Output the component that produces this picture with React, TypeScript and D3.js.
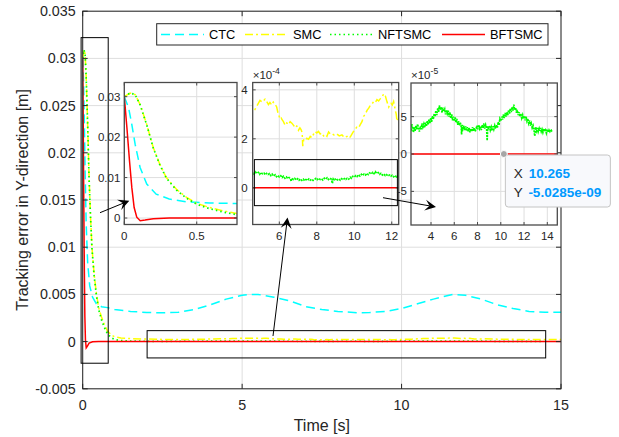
import React from 'react';
import * as d3 from 'd3';

const W = 619;
const H = 437;
const FONT = '"Liberation Sans", Arial, Helvetica, sans-serif';

// ---------------- data ----------------
const seriesNames = ['CTC', 'SMC', 'NFTSMC', 'BFTSMC'];

const ctcTime = [0, 0.03, 0.052, 0.075, 0.109, 0.155, 0.22, 0.31, 0.43, 0.59, 0.78, 1.0, 1.5, 2, 2.5, 3, 3.5, 4, 4.5, 5, 5.2, 5.5, 6, 6.5, 7, 7.5, 8, 8.6, 9, 9.5, 10, 10.5, 11, 11.6, 12, 12.5, 13, 13.5, 14, 14.5, 15];
const ctcErr = [0.030, 0.0272, 0.0231, 0.0182, 0.0125, 0.0084, 0.0059, 0.0047, 0.0040, 0.0037, 0.0036, 0.0034, 0.0032, 0.00308, 0.00306, 0.0031, 0.0034, 0.0039, 0.0045, 0.0049, 0.0050, 0.0050, 0.0047, 0.0043, 0.0037, 0.0034, 0.0032, 0.00306, 0.00308, 0.0032, 0.0035, 0.0040, 0.0045, 0.0050, 0.0049, 0.0045, 0.0039, 0.0035, 0.0032, 0.0031, 0.0031];

const smcTime = [0, 0.04, 0.075, 0.11, 0.155, 0.2, 0.245, 0.29, 0.36, 0.43, 0.5, 0.59, 0.68, 0.78, 0.9, 1.0, 1.2, 1.5, 2, 2.5, 3, 3.5, 4, 4.3,
  4.58, 4.7, 4.79, 4.88, 4.97, 5.1, 5.24, 5.33, 5.42, 5.5, 5.6, 5.68, 5.77, 5.86, 5.93, 6.0, 6.07, 6.13, 6.22, 6.31, 6.4, 6.49, 6.58, 6.67, 6.76, 6.84, 6.93, 7.02, 7.1, 7.16, 7.22, 7.25, 7.3, 7.38, 7.47, 7.56, 7.65, 7.74, 7.82, 7.91, 8.0, 8.09, 8.18, 8.27, 8.36, 8.45, 8.54, 8.63, 8.72, 8.8, 8.93, 9.07, 9.2, 9.34, 9.47, 9.61, 9.7, 9.79, 9.88, 9.96, 10.05, 10.14, 10.23, 10.32, 10.41, 10.5, 10.59, 10.68, 10.77, 10.85, 10.94, 11.03, 11.12, 11.21, 11.3, 11.39, 11.48, 11.57, 11.66, 11.75, 11.84, 11.9, 11.96, 12.03, 12.1, 12.19, 12.24, 12.28, 12.37,
  12.6, 13, 13.5, 14, 14.5, 15];
const smcErr = [0.030, 0.0309, 0.0305, 0.028, 0.0231, 0.0174, 0.0133, 0.0100, 0.0071, 0.0051, 0.0036, 0.0026, 0.0018, 0.0011, 0.0007, 0.0005, 0.00038, 0.00032, 0.00027, 0.00023, 0.00022, 0.00024, 0.00027, 0.00029,
  3.10e-4, 3.20e-4, 3.32e-4, 3.45e-4, 3.57e-4, 3.50e-4, 3.62e-4, 3.52e-4, 3.40e-4, 3.48e-4, 3.38e-4, 3.50e-4, 3.42e-4, 3.30e-4, 3.05e-4, 2.90e-4, 2.95e-4, 2.80e-4, 2.70e-4, 2.55e-4, 2.65e-4, 2.58e-4, 2.70e-4, 2.64e-4, 2.55e-4, 2.45e-4, 2.52e-4, 2.35e-4, 2.45e-4, 2.38e-4, 2.25e-4, 1.70e-4, 1.95e-4, 1.92e-4, 2.02e-4, 1.98e-4, 2.10e-4, 2.05e-4, 2.18e-4, 2.30e-4, 2.24e-4, 2.30e-4, 2.20e-4, 2.24e-4, 2.12e-4, 2.18e-4, 2.10e-4, 2.28e-4, 2.20e-4, 2.22e-4, 2.15e-4, 2.20e-4, 2.12e-4, 2.16e-4, 2.05e-4, 2.10e-4, 2.02e-4, 2.08e-4, 2.20e-4, 2.30e-4, 2.40e-4, 2.48e-4, 2.45e-4, 2.58e-4, 2.70e-4, 2.92e-4, 3.00e-4, 3.16e-4, 3.25e-4, 3.36e-4, 3.42e-4, 3.52e-4, 3.48e-4, 3.60e-4, 3.55e-4, 3.64e-4, 3.70e-4, 3.84e-4, 3.75e-4, 3.50e-4, 3.30e-4, 3.40e-4, 3.45e-4, 3.38e-4, 3.52e-4, 3.16e-4, 3.00e-4, 2.72e-4, 2.82e-4,
  2.9e-4, 2.6e-4, 2.4e-4, 2.2e-4, 2.1e-4, 2.2e-4];

const nftsmcTime = [0, 0.04, 0.075, 0.11, 0.155, 0.2, 0.245, 0.29, 0.36, 0.43, 0.5, 0.59, 0.68, 0.78, 0.9, 1.0, 1.2, 1.5, 1.8, 2.0,
  2.28, 2.35, 2.42, 2.49, 2.56, 2.63, 2.7, 2.78, 2.85, 2.92, 3.0, 3.08, 3.15, 3.22, 3.3, 3.38, 3.45, 3.52, 3.6, 3.68, 3.75, 3.82, 3.9, 3.98, 4.05, 4.12, 4.2, 4.28, 4.35, 4.42, 4.5, 4.58, 4.65, 4.72, 4.8, 4.88, 4.95, 5.02, 5.1, 5.18, 5.25, 5.32, 5.4, 5.48, 5.55, 5.62, 5.7, 5.78, 5.85, 5.92, 6.0, 6.08, 6.15, 6.22, 6.3, 6.38, 6.45, 6.52, 6.6, 6.63, 6.67, 6.75, 6.82, 6.9, 6.98, 7.05, 7.12, 7.2, 7.28, 7.35, 7.42, 7.5, 7.58, 7.65, 7.72, 7.8, 7.88, 7.95, 8.02, 8.1, 8.18, 8.25, 8.32, 8.4, 8.48, 8.55, 8.62, 8.7, 8.78, 8.83, 8.88, 8.95, 9.02, 9.1, 9.18, 9.25, 9.32, 9.4, 9.48, 9.55, 9.62, 9.7, 9.78, 9.85, 9.92, 10.0, 10.08, 10.15, 10.22, 10.3, 10.38, 10.45, 10.52, 10.6, 10.68, 10.75, 10.82, 10.9, 10.98, 11.05, 11.12, 11.2, 11.28, 11.35, 11.42, 11.5, 11.58, 11.65, 11.72, 11.8, 11.88, 11.95, 12.02, 12.1, 12.18, 12.25, 12.32, 12.4, 12.48, 12.55, 12.62, 12.7, 12.78, 12.85, 12.92, 13.0, 13.08, 13.15, 13.22, 13.3, 13.35, 13.4, 13.48, 13.55, 13.62, 13.7, 13.78, 13.85, 13.92, 14.0, 14.08, 14.15, 14.22, 14.3, 14.38, 14.45, 14.52, 14.6, 14.68, 14.75, 14.82, 14.9, 15.0];
const nftsmcErr = [0.030, 0.0309, 0.0305, 0.0279, 0.0230, 0.0173, 0.0132, 0.0099, 0.0069, 0.0049, 0.0034, 0.0023, 0.0015, 0.0008, 0.0004, 0.00022, 0.0001, 0.00006, 0.00004, 0.000035,
  3.2e-5, 4.0e-5, 3.4e-5, 2.9e-5, 3.6e-5, 3.1e-5, 3.8e-5, 3.3e-5, 4.0e-5, 3.5e-5, 3.0e-5, 3.7e-5, 3.3e-5, 4.1e-5, 3.6e-5, 4.0e-5, 3.5e-5, 4.2e-5, 3.7e-5, 4.4e-5, 3.9e-5, 4.6e-5, 4.1e-5, 4.8e-5, 4.3e-5, 5.1e-5, 4.7e-5, 5.4e-5, 5.0e-5, 5.8e-5, 5.2e-5, 6.1e-5, 5.6e-5, 6.5e-5, 5.9e-5, 6.3e-5, 5.5e-5, 6.2e-5, 5.7e-5, 6.0e-5, 5.3e-5, 5.9e-5, 5.4e-5, 5.8e-5, 5.0e-5, 5.6e-5, 4.8e-5, 5.3e-5, 4.5e-5, 5.0e-5, 4.4e-5, 4.9e-5, 4.2e-5, 4.7e-5, 3.9e-5, 4.4e-5, 3.8e-5, 4.2e-5, 3.6e-5, 2.6e-5, 3.9e-5, 3.4e-5, 3.8e-5, 3.2e-5, 3.7e-5, 3.1e-5, 3.6e-5, 3.0e-5, 3.5e-5, 2.9e-5, 3.4e-5, 3.0e-5, 3.6e-5, 3.1e-5, 3.5e-5, 3.0e-5, 3.4e-5, 3.8e-5, 3.3e-5, 3.9e-5, 3.4e-5, 3.7e-5, 3.2e-5, 3.9e-5, 3.5e-5, 4.1e-5, 3.4e-5, 3.9e-5, 3.5e-5, 1.8e-5, 3.7e-5, 3.3e-5, 3.8e-5, 3.2e-5, 3.6e-5, 3.1e-5, 3.7e-5, 3.3e-5, 3.8e-5, 3.4e-5, 3.9e-5, 3.5e-5, 4.3e-5, 3.9e-5, 4.7e-5, 4.4e-5, 5.0e-5, 4.6e-5, 5.3e-5, 4.8e-5, 5.5e-5, 5.0e-5, 5.6e-5, 5.2e-5, 5.9e-5, 5.4e-5, 6.1e-5, 5.6e-5, 6.3e-5, 5.8e-5, 6.6e-5, 5.9e-5, 6.2e-5, 5.5e-5, 5.9e-5, 5.2e-5, 5.6e-5, 5.0e-5, 5.4e-5, 4.8e-5, 5.2e-5, 4.7e-5, 5.1e-5, 4.5e-5, 5.0e-5, 4.4e-5, 4.7e-5, 4.1e-5, 4.5e-5, 3.8e-5, 4.1e-5, 3.5e-5, 3.8e-5, 3.3e-5, 2.4e-5, 3.6e-5, 3.1e-5, 3.5e-5, 3.0e-5, 3.4e-5, 3.1e-5, 3.5e-5, 3.0e-5, 3.3e-5, 2.9e-5, 3.4e-5, 3.0e-5, 3.2e-5, 2.8e-5, 3.3e-5, 2.9e-5, 3.2e-5, 3.0e-5, 3.3e-5, 3.1e-5, 3.2e-5];

const bftsmcTime = [0, 0.018, 0.036, 0.052, 0.068, 0.086, 0.11, 0.143, 0.2, 0.31, 0.5, 1, 15];
const bftsmcErr = [0.030, 0.0223, 0.0141, 0.0075, 0.0026, 0.0002, -0.00066, -0.0005, -0.00016, -0.00002, 0, 0, 0];

// tick labels
const mainXTicks = [0, 5, 10, 15];
const mainYTicks = [-0.005, 0, 0.005, 0.01, 0.015, 0.02, 0.025, 0.03, 0.035];
const mainYTickLabels = ['-0.005', '0', '0.005', '0.01', '0.015', '0.02', '0.025', '0.03', '0.035'];
const in1XTicks = [0, 0.5];
const in1XTickLabels = ['0', '0.5'];
const in1YTicks = [0, 0.01, 0.02, 0.03];
const in1YTickLabels = ['0', '0.01', '0.02', '0.03'];
const in2XTicks = [6, 8, 10, 12];
const in2YTicks = [0, 2e-4, 4e-4];
const in2YTickLabels = ['0', '2', '4'];
const in3XTicks = [4, 6, 8, 10, 12, 14];
const in3YTicks = [-5e-5, 0, 5e-5];
const in3YTickLabels = ['-5', '0', '5'];

const tipX = 10.265;
const tipYLabel = '-5.0285e-09';
const tipY = -5.0285e-9;

// ---------------- styles ----------------
const styles = [
  { color: '#00FFFF', dash: '9,5' },
  { color: '#FFFF00', dash: '8,3,2,3' },
  { color: '#00FF00', dash: '1.5,2.5' },
  { color: '#FF0000', dash: '' },
];
const seriesData = [
  { t: ctcTime, v: ctcErr },
  { t: smcTime, v: smcErr },
  { t: nftsmcTime, v: nftsmcErr },
  { t: bftsmcTime, v: bftsmcErr },
];

type PanelProps = {
  id: string;
  left: number; top: number; right: number; bottom: number;
  xDomain: [number, number]; yDomain: [number, number];
  xTicks: number[]; xLabels: string[];
  yTicks: number[]; yLabels: string[];
  fontSize: number; tickLen: number;
  boxColor: string; boxWidth: number;
  xLabelDy: number; yLabelDx: number;
  exponent?: string;
  only?: number[];
  greenDash?: string;
};

function Panel(p: PanelProps) {
  const xs = d3.scaleLinear().domain(p.xDomain).range([p.left, p.right]);
  const ys = d3.scaleLinear().domain(p.yDomain).range([p.bottom, p.top]);
  const line = d3.line<[number, number]>().x(d => xs(d[0])).y(d => ys(d[1]));
  const idx = p.only ?? [0, 1, 2, 3];
  const grid = '#dedede';
  return (
    <g>
      <defs>
        <clipPath id={p.id}>
          <rect x={p.left} y={p.top} width={p.right - p.left} height={p.bottom - p.top} />
        </clipPath>
      </defs>
      <rect x={p.left} y={p.top} width={p.right - p.left} height={p.bottom - p.top} fill="#fff" />
      {p.xTicks.map(t => (
        <line key={'gx' + t} x1={xs(t)} x2={xs(t)} y1={p.top} y2={p.bottom} stroke={grid} strokeWidth={1} />
      ))}
      {p.yTicks.map(t => (
        <line key={'gy' + t} x1={p.left} x2={p.right} y1={ys(t)} y2={ys(t)} stroke={grid} strokeWidth={1} />
      ))}
      <g clipPath={`url(#${p.id})`}>
        {idx.map(i => {
          const pts: [number, number][] = seriesData[i].t.map((t, k) => [t, seriesData[i].v[k]]);
          const dash = i === 2 && p.greenDash ? p.greenDash : styles[i].dash;
          return (
            <path key={i} d={line(pts) ?? ''} fill="none" stroke={styles[i].color}
              strokeWidth={i === 2 ? 1.7 : 1.5} strokeDasharray={dash || undefined} />
          );
        })}
      </g>
      {p.xTicks.map(t => (
        <g key={'tx' + t}>
          <line x1={xs(t)} x2={xs(t)} y1={p.bottom} y2={p.bottom - p.tickLen} stroke={p.boxColor} />
          <line x1={xs(t)} x2={xs(t)} y1={p.top} y2={p.top + p.tickLen} stroke={p.boxColor} />
        </g>
      ))}
      {p.yTicks.map(t => (
        <g key={'ty' + t}>
          <line x1={p.left} x2={p.left + p.tickLen} y1={ys(t)} y2={ys(t)} stroke={p.boxColor} />
          <line x1={p.right} x2={p.right - p.tickLen} y1={ys(t)} y2={ys(t)} stroke={p.boxColor} />
        </g>
      ))}
      <rect x={p.left} y={p.top} width={p.right - p.left} height={p.bottom - p.top} fill="none"
        stroke={p.boxColor} strokeWidth={p.boxWidth} />
      {p.xTicks.map((t, i) => (
        <text key={'lx' + t} x={xs(t)} y={p.bottom + p.xLabelDy} textAnchor="middle"
          fontSize={p.fontSize} fill="#262626" fontFamily={FONT}>{p.xLabels[i]}</text>
      ))}
      {p.yTicks.map((t, i) => (
        <text key={'ly' + t} x={p.left - p.yLabelDx} y={ys(t)} textAnchor="end" dominantBaseline="central"
          fontSize={p.fontSize} fill="#262626" fontFamily={FONT}>{p.yLabels[i]}</text>
      ))}
      {p.exponent && (
        <text x={p.left} y={p.top - 4} fontSize={p.fontSize} fill="#262626" fontFamily={FONT}>
          ×10<tspan dy={-5} fontSize={p.fontSize * 0.75}>{p.exponent}</tspan>
        </text>
      )}
    </g>
  );
}

function Arrow({ x1, y1, x2, y2 }: { x1: number; y1: number; x2: number; y2: number }) {
  const L = 11, Wd = 11;
  const dx = x2 - x1, dy = y2 - y1;
  const len = Math.hypot(dx, dy);
  const ux = dx / len, uy = dy / len;
  const px = -uy, py = ux;
  const bx = x2 - ux * L, by = y2 - uy * L;
  const nx = x2 - ux * L * 0.6, ny = y2 - uy * L * 0.6;
  const head = `M${x2},${y2} L${bx + px * Wd / 2},${by + py * Wd / 2} L${nx},${ny} L${bx - px * Wd / 2},${by - py * Wd / 2} Z`;
  return (
    <g>
      <line x1={x1} y1={y1} x2={nx} y2={ny} stroke="#000" strokeWidth={1} />
      <path d={head} fill="#000" />
    </g>
  );
}

export default function App() {
  const M = { left: 82.7, right: 561, top: 11.2, bottom: 388.8 };
  const xs = d3.scaleLinear().domain([0, 15]).range([M.left, M.right]);
  const ys = d3.scaleLinear().domain([-0.005, 0.035]).range([M.bottom, M.top]);

  const I3 = { left: 411, right: 557.3, top: 83, bottom: 225 };
  const xs3 = d3.scaleLinear().domain([2.28, 14.86]).range([I3.left, I3.right]);
  const ys3 = d3.scaleLinear().domain([-9.5e-5, 9.5e-5]).range([I3.bottom, I3.top]);
  const dotX = xs3(tipX), dotY = ys3(tipY);

  const I2 = { left: 252.7, right: 398.7, top: 82.5, bottom: 224.5 };
  const xs2 = d3.scaleLinear().domain([4.58, 12.37]).range([I2.left, I2.right]);
  const ys2 = d3.scaleLinear().domain([-1.5e-4, 4.3e-4]).range([I2.bottom, I2.top]);

  const legendItems = seriesNames.map((n, i) => ({ n, ...styles[i] }));
  const legX = [161, 245, 330, 442];

  return (
    <svg width={W} height={H} style={{ position: 'absolute', left: 0, top: 0, background: '#fff' }}
      fontFamily={FONT}>
      <rect x={0} y={0} width={W} height={H} fill="#fff" />
      <Panel id="cmain" left={M.left} right={M.right} top={M.top} bottom={M.bottom}
        xDomain={[0, 15]} yDomain={[-0.005, 0.035]}
        xTicks={mainXTicks} xLabels={mainXTicks.map(String)}
        yTicks={mainYTicks} yLabels={mainYTickLabels}
        fontSize={14.3} tickLen={5} boxColor="#262626" boxWidth={1}
        xLabelDy={21} yLabelDx={7} greenDash="1.5,3" />
      <text x={(M.left + M.right) / 2} y={431} textAnchor="middle" fontSize={16} fill="#262626">Time [s]</text>
      <text transform={`translate(22,${(M.top + M.bottom) / 2}) rotate(-90)`} textAnchor="middle"
        dominantBaseline="central" fontSize={16} fill="#262626">Tracking error in Y-direction [m]</text>

      <rect x={xs(-0.05)} y={ys(0.0322)} width={xs(0.8) - xs(-0.05)} height={ys(-0.00229) - ys(0.0322)}
        fill="none" stroke="#000" strokeWidth={1} />
      <rect x={xs(2.02)} y={ys(0.00116)} width={xs(14.52) - xs(2.02)} height={ys(-0.00173) - ys(0.00116)}
        fill="none" stroke="#000" strokeWidth={1} />

      <rect x={156.7} y={23.7} width={548 - 156.7} height={45 - 23.7} fill="#fff" stroke="#262626" strokeWidth={1} />
      {legendItems.map((it, i) => (
        <g key={it.n}>
          <line x1={legX[i]} x2={legX[i] + 43} y1={34.5} y2={34.5} stroke={it.color} strokeWidth={1.5}
            strokeDasharray={i === 2 ? '1.5,3' : (it.dash || undefined)} />
          <text x={legX[i] + 48} y={34.5} dominantBaseline="central" fontSize={12.8} fill="#000">{it.n}</text>
        </g>
      ))}

      <Panel id="cin1" left={124.3} right={237} top={82.5} bottom={224.5}
        xDomain={[0, 0.778]} yDomain={[-0.0016, 0.0335]}
        xTicks={in1XTicks} xLabels={in1XTickLabels}
        yTicks={in1YTicks} yLabels={in1YTickLabels}
        fontSize={11.5} tickLen={3} boxColor="#4a4a4a" boxWidth={1.3}
        xLabelDy={15} yLabelDx={4} greenDash="1.5,3" />

      <Panel id="cin2" left={I2.left} right={I2.right} top={I2.top} bottom={I2.bottom}
        xDomain={[4.58, 12.37]} yDomain={[-1.5e-4, 4.3e-4]}
        xTicks={in2XTicks} xLabels={in2XTicks.map(String)}
        yTicks={in2YTicks} yLabels={in2YTickLabels}
        fontSize={11.5} tickLen={3} boxColor="#4a4a4a" boxWidth={1.3}
        xLabelDy={15} yLabelDx={5} exponent="-4" only={[1, 2, 3]} greenDash="2,1" />
      <rect x={xs2(4.67)} y={ys2(1.15e-4)} width={xs2(12.3) - xs2(4.67)} height={ys2(-0.73e-4) - ys2(1.15e-4)}
        fill="none" stroke="#000" strokeWidth={1} />

      <Panel id="cin3" left={I3.left} right={I3.right} top={I3.top} bottom={I3.bottom}
        xDomain={[2.28, 14.86]} yDomain={[-9.5e-5, 9.5e-5]}
        xTicks={in3XTicks} xLabels={in3XTicks.map(String)}
        yTicks={in3YTicks} yLabels={in3YTickLabels}
        fontSize={11.5} tickLen={3} boxColor="#4a4a4a" boxWidth={1.3}
        xLabelDy={15} yLabelDx={4} exponent="-5" only={[2, 3]} greenDash="2,1" />

      <Arrow x1={100} y1={212.7} x2={129.3} y2={200.7} />
      <Arrow x1={273} y1={336} x2={287.5} y2={217.5} />
      <Arrow x1={383} y1={197.7} x2={436} y2={207} />

      <rect x={dotX + 1.5} y={dotY + 1} width={105} height={52} rx={3} fill="#f8f9fc" stroke="#c4c4c4" strokeWidth={1} />
      <circle cx={dotX} cy={dotY} r={3.5} fill="#a6a6a6" stroke="#fff" strokeWidth={1} />
      <text x={dotX + 10} y={dotY + 19} dominantBaseline="central" fontSize={13.5} fill="#262626">
        X <tspan fill="#0099ff" fontWeight="bold" dx={2}>{tipX}</tspan>
      </text>
      <text x={dotX + 10} y={dotY + 38} dominantBaseline="central" fontSize={13.5} fill="#262626">
        Y <tspan fill="#0099ff" fontWeight="bold" dx={2}>{tipYLabel}</tspan>
      </text>
    </svg>
  );
}
